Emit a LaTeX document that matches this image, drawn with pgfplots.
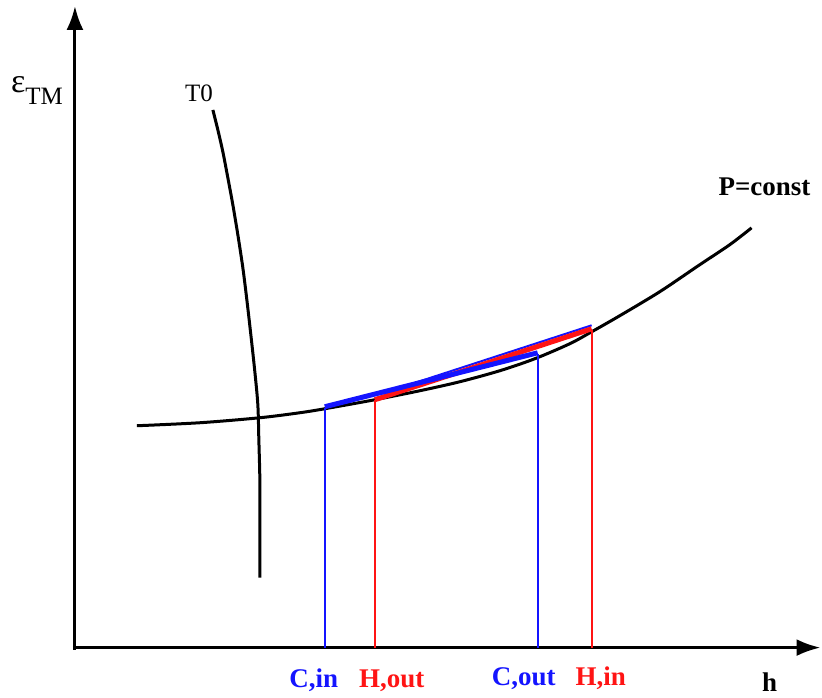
\documentclass[border=0pt]{standalone}
\usepackage{pgfplots}
\pgfplotsset{compat=1.18}
\usepackage{fontspec}
\setmainfont{Liberation Serif}
\usetikzlibrary{arrows.meta}
\definecolor{myblue}{RGB}{20,20,255}
\definecolor{myred}{RGB}{255,20,20}
\begin{document}
\begin{tikzpicture}
\begin{axis}[
  hide axis, clip=false,
  scale only axis, width=822pt, height=698pt,
  xmin=0, xmax=822, ymin=0, ymax=698, y dir=reverse,
]
% bounding frame (invisible)
\addplot[draw=none] coordinates {(0,0) (822,698)};
% axes
\addplot[line width=3pt, -{Latex[length=24pt,width=17pt]}] coordinates {(75,650) (75,6)};
\addplot[line width=3pt, -{Latex[length=24pt,width=17pt]}] coordinates {(73,648) (821,648)};
% T0 curve
\addplot[line width=3pt, smooth] coordinates {
 (213,110) (218,130) (223,152) (228,178) (233,205) (238,235) (243,268) (247,300)
 (251,335) (255,372) (258,405) (259,440) (260,480) (260,530) (260,578)};
% P=const curve
\addplot[line width=3pt, smooth] coordinates {
 (137,426) (200,423) (260,418) (300,413) (325,409) (375,400) (420,391)
 (460,382) (500,371) (535,359) (570,344) (592,332) (620,316) (660,292) (700,265)
 (730,245) (752,228)};
% vertical lines
\addplot[myblue, line width=1.9pt] coordinates {(325.3,408) (325.3,648)};
\addplot[myred, line width=1.9pt] coordinates {(375.3,400) (375.3,648)};
\addplot[myblue, line width=1.9pt] coordinates {(538.3,354) (538.3,648)};
\addplot[myred, line width=1.9pt] coordinates {(592.3,330) (592.3,648)};
% chords
\addplot[myblue, line width=2pt] coordinates {(400,388) (592,325.5)};
\addplot[myred, line width=5pt] coordinates {(375,400) (592,329)};
\addplot[myblue, line width=5pt] coordinates {(325,407) (538,353)};
% labels
\node[inner sep=0pt, anchor=base west] at (axis cs:11,93) {\fontsize{34}{36}\selectfont ε\raisebox{-12pt}{\fontsize{25}{28}\selectfont TM}};
\node[font=\fontsize{25}{28}\selectfont, inner sep=0pt] at (axis cs:199,93) {T0};
\node[font=\fontsize{27}{30}\selectfont\bfseries, inner sep=0pt] at (axis cs:765,187) {P=const};
\node[font=\fontsize{27}{30}\selectfont\bfseries, text=myblue, inner sep=0pt] at (axis cs:314,681) {C,in};
\node[font=\fontsize{27}{30}\selectfont\bfseries, text=myred, inner sep=0pt] at (axis cs:392,681) {H,out};
\node[font=\fontsize{27}{30}\selectfont\bfseries, text=myblue, inner sep=0pt] at (axis cs:524,679) {C,out};
\node[font=\fontsize{27}{30}\selectfont\bfseries, text=myred, inner sep=0pt] at (axis cs:601,679) {H,in};
\node[font=\fontsize{27}{30}\selectfont\bfseries, inner sep=0pt] at (axis cs:770,683) {h};
\end{axis}
\end{tikzpicture}
\end{document}
